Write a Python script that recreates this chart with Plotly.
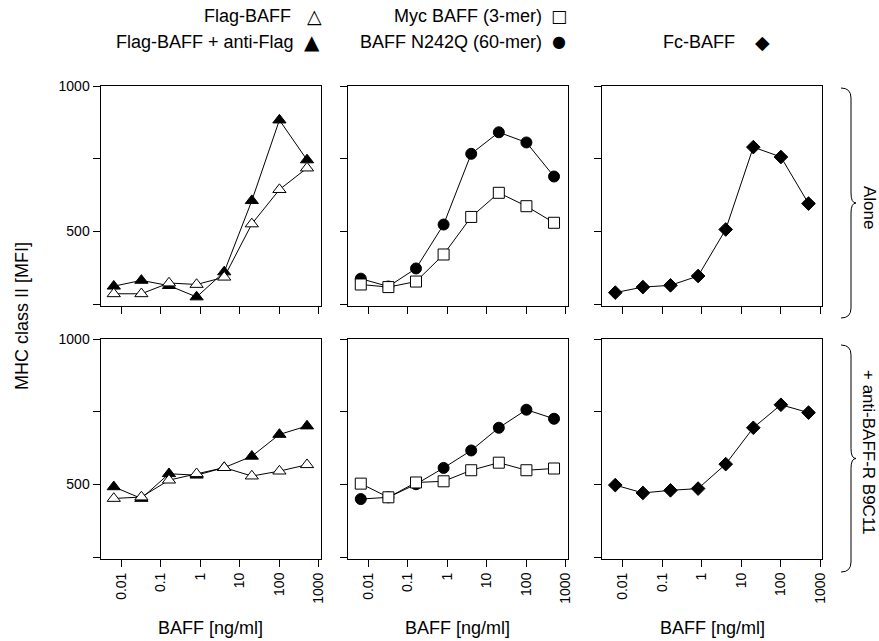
import plotly.graph_objects as go

W, H = 879, 641

# ---------------- data ----------------
doses = [0.0064, 0.032, 0.16, 0.8, 4, 20, 100, 500]
x_tickvals = [0.01, 0.1, 1, 10, 100, 1000]
x_ticktext = ["0.01", "0.1", "1", "10", "100", "1000"]
y_tickvals = [250, 500, 750, 1000]
y_ticktext = ["", "500", "", "1000"]

# Alone
flag_alone = [286, 286, 323, 318, 343, 526, 644, 718]
flag_anti_alone = [312, 332, 314, 275, 361, 606, 883, 746]
myc_alone = [318, 309, 328, 421, 550, 633, 587, 530]
n242q_alone = [338, 311, 373, 524, 767, 841, 806, 689]
fc_alone = [290, 309, 315, 347, 507, 790, 756, 596]

# + anti-BAFF-R B9C11
flag_b9 = [452, 457, 515, 537, 558, 529, 546, 568]
flag_anti_b9 = [492, 452, 537, 532, 558, 597, 672, 701]
myc_b9 = [503, 456, 507, 511, 549, 575, 549, 555]
n242q_b9 = [450, 456, 501, 557, 617, 695, 757, 726]
fc_b9 = [498, 471, 480, 486, 570, 695, 774, 747]

row_labels = ["Alone", "+ anti-BAFF-R B9C11"]
x_title = "BAFF [ng/ml]"
y_title = "MHC class II [MFI]"

# ---------------- styles ----------------
FONT = "Liberation Sans, Arial, Helvetica, sans-serif"
SYMFONT = "DejaVu Sans, sans-serif"
styles = {
    "flag": dict(symbol="triangle-up", size=11.5, color="white"),
    "flag_anti": dict(symbol="triangle-up", size=11.5, color="black"),
    "myc": dict(symbol="square", size=11, color="white"),
    "n242q": dict(symbol="circle", size=11, color="black"),
    "fc": dict(symbol="diamond", size=10.5, color="black"),
}

panels = [
    (0, 0, [("flag_anti", flag_anti_alone), ("flag", flag_alone)]),
    (0, 1, [("n242q", n242q_alone), ("myc", myc_alone)]),
    (0, 2, [("fc", fc_alone)]),
    (1, 0, [("flag_anti", flag_anti_b9), ("flag", flag_b9)]),
    (1, 1, [("n242q", n242q_b9), ("myc", myc_b9)]),
    (1, 2, [("fc", fc_b9)]),
]

# panel frames in window pixels
col_x = [(100.5, 320.5), (347.5, 567.5), (602, 822)]
row_y = [(86, 306), (339, 559)]


def X(p):
    return p / W


def Y(p):
    return 1 - p / H


fig = go.Figure()
layout = dict(
    width=W, height=H, autosize=False,
    margin=dict(l=0, r=0, t=0, b=0, autoexpand=False),
    paper_bgcolor="white", plot_bgcolor="white",
    showlegend=False,
    font=dict(family=FONT, color="black", size=14),
)

for i, (r, c, series) in enumerate(panels):
    n = i + 1
    sfx = "" if n == 1 else str(n)
    for key, vals in series:
        st = styles[key]
        fig.add_trace(go.Scatter(
            x=doses, y=vals, mode="lines+markers",
            xaxis="x" + sfx, yaxis="y" + sfx,
            line=dict(color="black", width=1),
            marker=dict(symbol=st["symbol"], size=st["size"], color=st["color"],
                        line=dict(color="black", width=1)),
            hoverinfo="skip", cliponaxis=False,
        ))
    x0, x1 = col_x[c]
    y0, y1 = row_y[r]
    layout["xaxis" + sfx] = dict(
        domain=[X(x0), X(x1)], anchor="y" + sfx, type="log", range=[-2.53, 3.04],
        tickvals=x_tickvals, ticktext=x_ticktext, showticklabels=(r == 1),
        tickangle=-90, ticks="outside", ticklen=7, tickwidth=1, tickcolor="black",
        showline=True, mirror=True, linecolor="black", linewidth=1,
        showgrid=False, zeroline=False, tickfont=dict(size=14, family=FONT),
    )
    layout["yaxis" + sfx] = dict(
        domain=[Y(y1), Y(y0)], anchor="x" + sfx, range=[244, 1000],
        tickvals=y_tickvals, ticktext=y_ticktext, showticklabels=(c == 0),
        ticks="outside", ticklen=7, tickwidth=1, tickcolor="black",
        showline=True, mirror=True, linecolor="black", linewidth=1,
        showgrid=False, zeroline=False, tickfont=dict(size=14, family=FONT),
    )


def brace(top, bot, xe=841, xb=851, xt=856, rr=10):
    mid = (top + bot) / 2
    return (f"M {X(xe)},{Y(top)} Q {X(xb)},{Y(top)} {X(xb)},{Y(top + rr)} "
            f"L {X(xb)},{Y(mid - rr)} Q {X(xb)},{Y(mid)} {X(xt)},{Y(mid)} "
            f"Q {X(xb)},{Y(mid)} {X(xb)},{Y(mid + rr)} "
            f"L {X(xb)},{Y(bot - rr)} Q {X(xb)},{Y(bot)} {X(xe)},{Y(bot)}")


layout["shapes"] = [
    dict(type="path", xref="paper", yref="paper", path=brace(88, 318),
         line=dict(color="black", width=1)),
    dict(type="path", xref="paper", yref="paper", path=brace(345, 572),
         line=dict(color="black", width=1)),
]


def label(text, x, y, size=18, angle=0, xanchor="center", family=FONT):
    return dict(text=text, x=X(x), y=Y(y), xref="paper", yref="paper",
                xanchor=xanchor, yanchor="middle", textangle=angle, borderpad=0,
                showarrow=False, font=dict(size=size, family=family, color="black"))


ann = []
ann.append(label(y_title, 22, 316, angle=-90))
for c in range(3):
    xc = (col_x[c][0] + col_x[c][1]) / 2
    ann.append(label(x_title, xc, 628))
ann.append(label(row_labels[0], 869, 207, size=17, angle=90))
ann.append(label(row_labels[1], 869, 452, size=17, angle=90))

# legend (text + symbol)
legend_items = [
    ("Flag-BAFF", "\u25B3", 292, 314, 16, 19),
    ("Myc BAFF (3-mer)", "\u25A1", 543, 559, 16, 17),
    ("Flag-BAFF + anti-Flag", "\u25B2", 295, 312, 42, 20),
    ("BAFF N242Q (60-mer)", "\u25CF", 543, 559, 42, 16),
    ("Fc-BAFF", "\u25C6", 736, 762, 42, 19),
]
for txt, sym, xr, xs, yy, ss in legend_items:
    ann.append(label(txt, xr, yy, xanchor="right"))
    ann.append(label(sym, xs, yy, size=ss, family=SYMFONT))
layout["annotations"] = ann

fig.update_layout(**layout)
# remove the default page margin so the 879x641 figure fills the window exactly
fig.write_html(
    "out.html",
    config={"displayModeBar": False},
    post_script="document.body.style.margin='0';"
                "document.documentElement.style.overflow='hidden';",
)
